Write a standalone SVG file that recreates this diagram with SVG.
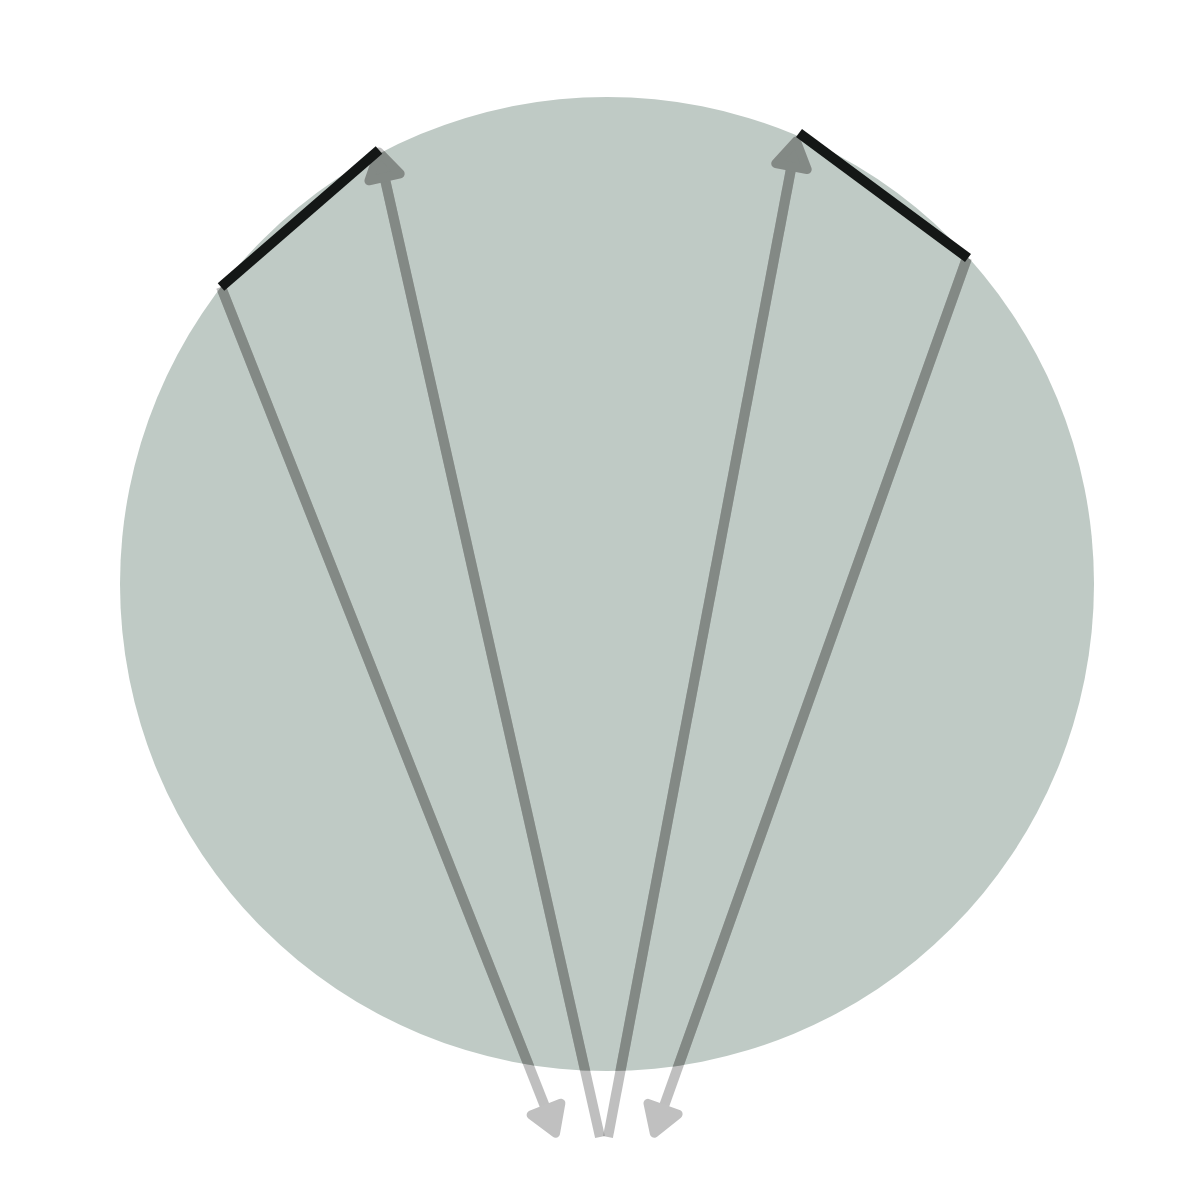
<svg xmlns="http://www.w3.org/2000/svg" width="1200" height="1200" viewBox="0 0 1200 1200">
  <style>
    .edge { fill: none; stroke-width: 10; stroke-linecap: butt; }
    .light { stroke: #808080; stroke-opacity: 0.5; }
    .dark { stroke: #838985; }
    .bar { stroke: #141716; stroke-width: 10; stroke-linecap: butt; fill: none; }
  </style>
  <defs>
    <clipPath id="inCircle">
      <circle cx="607" cy="584" r="487"/>
    </clipPath>
    <marker id="headLight" markerUnits="userSpaceOnUse" orient="auto" markerWidth="80" markerHeight="80" viewBox="-50 -40 80 80" refX="-12" refY="0" overflow="visible">
      <path d="M-4,0 L-30,-16 L-30,16 Z" fill="#c0c0c0" stroke="#c0c0c0" stroke-width="9" stroke-linejoin="round"/>
    </marker>
    <marker id="headDark" markerUnits="userSpaceOnUse" orient="auto" markerWidth="80" markerHeight="80" viewBox="-50 -40 80 80" refX="-12" refY="0" overflow="visible">
      <path d="M-4,0 L-30,-16 L-30,16 Z" fill="#838985" stroke="#838985" stroke-width="9" stroke-linejoin="round"/>
    </marker>
  </defs>
  <rect width="1200" height="1200" fill="#ffffff"/>
  <g id="circle">
    <circle cx="607" cy="584" r="487" fill="#bfcac5"/>
  </g>
  <g id="connectors">
    <g id="connectors-outside">
      <path class="edge light" d="M221,287 L552.6,1125.8" marker-end="url(#headLight)"/>
      <path class="edge light" d="M600,1137 L380.6,159.7" marker-end="url(#headLight)"/>
      <path class="edge light" d="M608,1137 L794.8,148.8" marker-end="url(#headLight)"/>
      <path class="edge light" d="M967,258 L657,1125.7" marker-end="url(#headLight)"/>
    </g>
    <g id="connectors-inside" clip-path="url(#inCircle)">
      <path class="edge dark" d="M221,287 L552.6,1125.8" marker-end="url(#headDark)"/>
      <path class="edge dark" d="M600,1137 L380.6,159.7" marker-end="url(#headDark)"/>
      <path class="edge dark" d="M608,1137 L794.8,148.8" marker-end="url(#headDark)"/>
      <path class="edge dark" d="M967,258 L657,1125.7" marker-end="url(#headDark)"/>
    </g>
  </g>
  <g id="bar-left">
    <line class="bar" x1="221" y1="287" x2="379" y2="150"/>
  </g>
  <g id="bar-right">
    <line class="bar" x1="799" y1="133" x2="968" y2="258"/>
  </g>
</svg>
